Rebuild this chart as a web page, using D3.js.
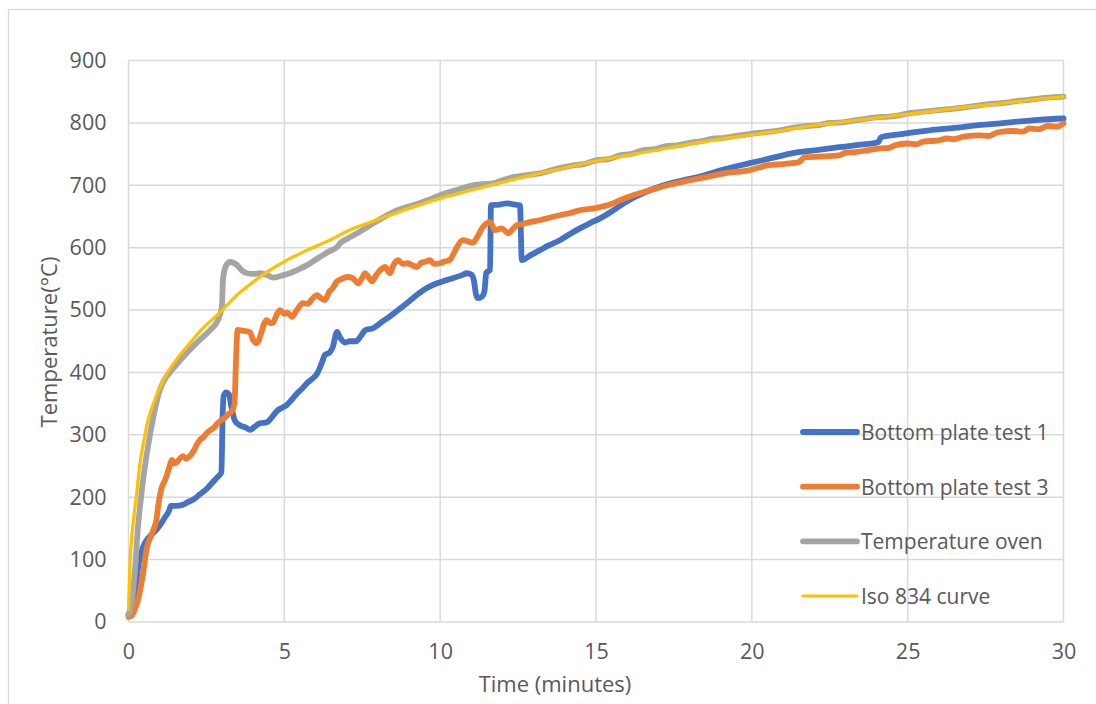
<!DOCTYPE html>
<html>
<head>
<meta charset="utf-8">
<script src="https://cdn.jsdelivr.net/npm/d3@7"></script>
<style>
  html, body { margin: 0; padding: 0; background: #fff; }
  svg { display: block; font-family: "Open Sans", "Noto Sans", sans-serif; }
</style>
</head>
<body>
<svg id="chart" width="1096" height="704"></svg>
<script>
// Furnace test: temperature vs time (minutes)
const xTicks = [0, 5, 10, 15, 20, 25, 30];
const yTicks = [0, 100, 200, 300, 400, 500, 600, 700, 800, 900];

const seriesNames = ["Bottom plate test 1", "Bottom plate test 3", "Temperature oven", "Iso 834 curve"];
const seriesColors = ["#4472C4", "#ED7D31", "#A5A5A5", "#FFC000"];
const seriesWidths = [5.8, 5.8, 5.8, 3.2];

// [time, temperature] pairs
const plate1 = [
  [0,12],[0.1,20],[0.2,46],[0.3,85],[0.37,104],[0.45,118],[0.53,127],[0.7,138],[0.9,148],[1.05,158],
  [1.17,168],[1.3,178],[1.36,186],[1.5,186],[1.75,188],[1.9,192],[2.07,196],[2.3,205],[2.52,214],[2.7,224],
  [2.87,233],[2.98,240],[3.02,330],[3.05,362],[3.13,368],[3.22,365],[3.3,345],[3.42,322],[3.58,315],[3.75,312],
  [3.9,308],[4.05,313],[4.2,318],[4.44,320],[4.6,328],[4.76,338],[4.95,344],[5.08,348],[5.25,357],[5.4,366],
  [5.55,373],[5.73,383],[5.9,390],[6.05,398],[6.2,415],[6.3,428],[6.45,432],[6.55,440],[6.69,465],[6.8,455],
  [6.95,448],[7.1,450],[7.3,450],[7.45,458],[7.6,468],[7.85,471],[8.1,480],[8.39,490],[8.6,498],[8.93,511],
  [9.15,520],[9.35,528],[9.6,536],[9.9,543],[10.2,548],[10.4,551],[10.7,556],[10.86,559],[11.0,557],[11.08,548],
  [11.15,525],[11.22,519],[11.35,522],[11.42,530],[11.48,560],[11.6,564],[11.63,668],[11.9,669],[12.14,671],[12.4,669],
  [12.56,668],[12.62,580],[12.9,588],[13.2,596],[13.5,604],[13.84,612],[14.1,620],[14.48,631],[14.8,639],[15.13,647],
  [15.5,658],[15.77,667],[16.2,680],[16.73,692],[17.3,702],[17.8,708],[18.33,714],[19.0,724],[19.9,735],[20.5,742],
  [21.0,748],[21.5,753],[22.2,757],[22.8,761],[23.5,765],[24.05,769],[24.15,777],[24.8,782],[25.7,788],[26.5,792],
  [27.2,796],[27.9,799],[28.5,802],[29.2,805],[30,807]
];

const plate3 = [
  [0,8],[0.1,10],[0.2,20],[0.3,34],[0.4,58],[0.47,78],[0.55,108],[0.62,125],[0.7,135],[0.8,148],
  [0.9,165],[0.95,185],[1.07,216],[1.15,225],[1.23,235],[1.32,250],[1.39,260],[1.48,254],[1.55,256],[1.65,262],
  [1.75,266],[1.85,262],[1.97,266],[2.1,275],[2.2,285],[2.29,292],[2.4,296],[2.5,302],[2.61,307],[2.75,312],
  [2.85,318],[2.94,322],[3.1,328],[3.2,333],[3.32,338],[3.4,350],[3.45,420],[3.5,468],[3.65,467],[3.8,466],
  [3.9,464],[4.0,452],[4.12,447],[4.25,462],[4.35,478],[4.44,484],[4.55,479],[4.64,480],[4.75,492],[4.86,500],
  [5.0,494],[5.1,496],[5.24,489],[5.4,500],[5.6,511],[5.75,510],[5.9,518],[6.05,524],[6.15,520],[6.3,516],
  [6.45,530],[6.55,535],[6.69,546],[6.85,550],[7.0,553],[7.2,551],[7.37,543],[7.5,552],[7.59,559],[7.7,553],
  [7.81,546],[7.95,556],[8.1,565],[8.23,569],[8.39,559],[8.5,572],[8.65,580],[8.8,574],[8.95,575],[9.1,572],
  [9.25,569],[9.4,576],[9.55,578],[9.67,580],[9.8,574],[9.99,575],[10.15,578],[10.3,580],[10.45,592],[10.54,601],
  [10.73,612],[10.9,610],[11.05,608],[11.2,618],[11.37,633],[11.6,641],[11.76,628],[11.98,631],[12.1,626],[12.19,623],
  [12.3,628],[12.46,636],[12.65,638],[12.88,641],[13.2,644],[13.5,648],[13.84,652],[14.2,656],[14.48,660],[14.8,662],
  [15.13,665],[15.5,670],[15.77,676],[16.2,684],[16.73,692],[17.3,700],[18.01,708],[18.6,714],[19.2,720],[19.9,724],
  [20.2,728],[20.5,732],[21.0,734],[21.5,737],[21.7,745],[22.2,746],[22.8,748],[23.0,752],[23.3,753],[23.7,756],
  [24.1,759],[24.4,760],[24.6,764],[24.97,767],[25.3,766],[25.5,770],[26.0,772],[26.26,775],[26.5,774],[26.8,778],
  [27.3,780],[27.6,779],[27.9,785],[28.4,787],[28.7,786],[28.9,791],[29.2,790],[29.5,795],[29.8,794],[30,799]
];

const oven = [
  [0,12],[0.1,30],[0.2,78],[0.3,150],[0.37,185],[0.5,240],[0.59,270],[0.7,303],[0.8,329],[0.9,352],
  [1.0,371],[1.15,388],[1.33,400],[1.6,416],[1.87,431],[2.1,443],[2.39,457],[2.6,467],[2.87,484],[2.95,495],
  [3.0,508],[3.03,548],[3.12,570],[3.26,577],[3.48,572],[3.65,563],[3.8,559],[4.0,558],[4.22,559],[4.45,556],
  [4.64,552],[4.9,555],[5.18,559],[5.45,565],[5.73,572],[5.95,579],[6.14,585],[6.4,593],[6.69,601],[6.79,607],
  [7.05,615],[7.33,623],[7.6,631],[7.85,639],[8.2,649],[8.49,657],[8.8,663],[9.14,668],[9.6,676],[10.0,684],
  [10.5,692],[11.05,700],[11.4,702],[11.7,703],[12.0,708],[12.35,713],[12.7,716],[13.2,719],[13.7,726],[14.27,732],
  [14.6,734],[15.0,740],[15.4,742],[15.77,748],[16.1,750],[16.5,756],[16.9,758],[17.3,763],[17.6,764],[18.0,768],
  [18.4,771],[18.8,775],[19.1,776],[19.5,779],[19.9,782],[20.2,784],[20.6,786],[21.0,789],[21.4,793],[21.8,795],
  [22.2,797],[22.5,800],[22.9,801],[23.3,804],[23.7,807],[24.0,809],[24.4,810],[24.8,813],[25.1,816],[25.5,818],
  [25.9,820],[26.3,822],[26.7,824],[27.0,826],[27.4,829],[27.8,831],[28.1,832],[28.5,835],[28.9,837],[29.2,839],
  [29.6,841],[30,842]
];

const iso834 = [
  [0,20],[0.05,95],[0.1,135],[0.15,160],[0.25,200],[0.37,255],[0.5,292],[0.6,318],[0.8,350],[1.0,375],
  [1.25,400],[1.5,418],[1.87,441],[2.39,471],[2.93,496],[3.48,524],[4.0,545],[4.54,564],[5.08,580],[5.73,596],
  [6.46,612],[7.0,626],[8.0,645],[9.0,663],[10.0,679],[11.0,692],[12.0,705],[13.0,717],[14.0,728],[15.0,739],
  [16.0,748],[17.0,757],[18.0,766],[19.0,774],[20.0,781],[21.0,788],[22.0,796],[23.0,802],[24.0,808],[25.0,814],
  [26.0,820],[27.0,826],[28.0,831],[29.0,837],[30.0,842]
];

const seriesData = [plate1, plate3, oven, iso834];

const svg = d3.select("#chart");
const textColor = "#595959";
const gridColor = "#d9d9d9";

// outer chart frame
svg.append("rect")
  .attr("x", 8.5).attr("y", 9.5)
  .attr("width", 1100).attr("height", 700)
  .attr("fill", "#fff").attr("stroke", gridColor).attr("stroke-width", 1.3);

const plot = { left: 128.5, right: 1063.5, top: 60.5, bottom: 622 };

const x = d3.scaleLinear().domain([0, 30]).range([plot.left, plot.right]);
const y = d3.scaleLinear().domain([0, 900]).range([plot.bottom, plot.top]);

// gridlines
svg.append("g")
  .selectAll("line")
  .data(yTicks)
  .join("line")
  .attr("x1", plot.left).attr("x2", plot.right)
  .attr("y1", d => y(d)).attr("y2", d => y(d))
  .attr("stroke", gridColor).attr("stroke-width", 1.5);

svg.append("g")
  .selectAll("line")
  .data(xTicks)
  .join("line")
  .attr("x1", d => x(d)).attr("x2", d => x(d))
  .attr("y1", plot.top).attr("y2", plot.bottom)
  .attr("stroke", gridColor).attr("stroke-width", 1.5);

// axes (labels only; gridlines act as axis lines)
const xAxis = d3.axisBottom(x).tickValues(xTicks).tickSize(0).tickPadding(22);
const gx = svg.append("g").attr("transform", `translate(0,${plot.bottom})`).call(xAxis);
gx.select(".domain").remove();
gx.selectAll("text").attr("fill", textColor).style("font-size", "21.5px").style("font-family", "Open Sans");

const yAxis = d3.axisLeft(y).tickValues(yTicks).tickSize(0).tickPadding(22);
const gy = svg.append("g").attr("transform", `translate(${plot.left},0)`).call(yAxis);
gy.select(".domain").remove();
gy.selectAll("text").attr("fill", textColor).style("font-size", "21.5px").style("font-family", "Open Sans");

// axis titles
svg.append("text")
  .attr("x", 555).attr("y", 683)
  .attr("text-anchor", "middle").attr("dominant-baseline", "central")
  .attr("fill", textColor).style("font-size", "22px")
  .text("Time (minutes)");

svg.append("text")
  .attr("transform", "translate(48,342) rotate(-90)")
  .attr("text-anchor", "middle").attr("dominant-baseline", "central")
  .attr("fill", textColor).style("font-size", "22px")
  .text("Temperature(°C)");

// series lines
const line = d3.line()
  .x(d => x(d[0]))
  .y(d => y(d[1]))
  .curve(d3.curveMonotoneX);

svg.append("g")
  .selectAll("path")
  .data(seriesData)
  .join("path")
  .attr("d", d => line(d))
  .attr("fill", "none")
  .attr("stroke", (d, i) => seriesColors[i])
  .attr("stroke-width", (d, i) => seriesWidths[i])
  .attr("stroke-linejoin", "round")
  .attr("stroke-linecap", "round");

// legend
const legend = svg.append("g");
const legendRows = seriesNames.map((name, i) => ({ name, i }));
const rowY = d3.scalePoint().domain(d3.range(seriesNames.length)).range([432, 596]);

legend.selectAll("line")
  .data(legendRows)
  .join("line")
  .attr("x1", 803).attr("x2", 857)
  .attr("y1", d => rowY(d.i)).attr("y2", d => rowY(d.i))
  .attr("stroke", d => seriesColors[d.i])
  .attr("stroke-width", d => seriesWidths[d.i])
  .attr("stroke-linecap", "round");

legend.selectAll("text")
  .data(legendRows)
  .join("text")
  .attr("x", 861)
  .attr("y", d => rowY(d.i))
  .attr("dominant-baseline", "central")
  .attr("fill", textColor)
  .style("font-size", "21px")
  .text(d => d.name);
</script>
</body>
</html>
